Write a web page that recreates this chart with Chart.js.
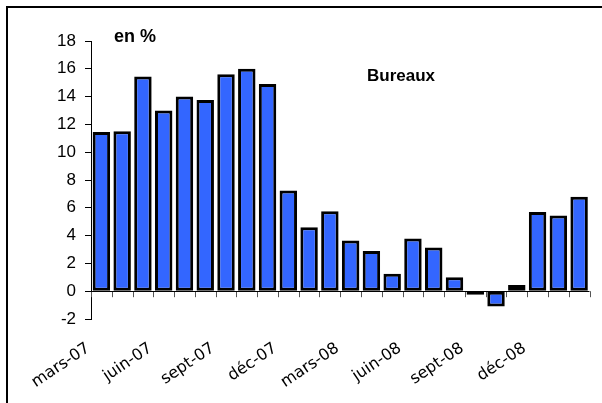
<!DOCTYPE html>
<html>
<head>
<meta charset="utf-8">
<script src="https://cdn.jsdelivr.net/npm/chart.js@4"></script>
<style>
  html, body { margin: 0; padding: 0; background: #fff; }
  #wrap { position: relative; width: 602px; height: 403px; }
  #frame { position: absolute; left: 6px; top: 6px; right: 0; bottom: 0;
           border-left: 2px solid #000; border-top: 2px solid #000; pointer-events: none; }
</style>
</head>
<body>
<div id="wrap">
  <canvas id="chart" width="602" height="403"></canvas>
  <div id="frame"></div>
</div>
<script>
const months = ["mars-07", "avr-07", "mai-07", "juin-07", "juil-07", "août-07",
  "sept-07", "oct-07", "nov-07", "déc-07", "janv-08", "févr-08",
  "mars-08", "avr-08", "mai-08", "juin-08", "juil-08", "août-08",
  "sept-08", "oct-08", "nov-08", "déc-08", "janv-09", "févr-09"];
const shownLabels = ["mars-07", "juin-07", "sept-07", "déc-07", "mars-08", "juin-08", "sept-08", "déc-08"];
const bureaux = [11.45, 11.5, 15.45, 13.0, 14.0, 13.75, 15.6, 16.0, 14.9, 7.25, 4.6, 5.75,
  3.65, 2.9, 1.25, 3.8, 3.15, 1.0, -0.25, -1.1, 0.45, 5.7, 5.45, 6.8];
const yTicks = [-2, 0, 2, 4, 6, 8, 10, 12, 14, 16, 18];
const unitText = "en %";
const seriesName = "Bureaux";

// zero line + tick marks between months, drawn under the bars
const zeroAxis = {
  id: "zeroAxis",
  beforeDatasetsDraw(chart) {
    const { ctx, scales: { x, y }, chartArea } = chart;
    const y0 = y.getPixelForValue(0);
    ctx.save();
    ctx.strokeStyle = "#555";
    ctx.lineWidth = 1;
    for (let i = 0; i <= months.length; i++) {
      const px = Math.round(x.getPixelForValue(i - 0.5)) + 0.5;
      ctx.beginPath();
      ctx.moveTo(px, y0);
      ctx.lineTo(px, y0 + 6);
      ctx.stroke();
    }
    ctx.strokeStyle = "#000";
    ctx.beginPath();
    ctx.moveTo(chartArea.left, Math.round(y0) + 0.5);
    ctx.lineTo(chartArea.right, Math.round(y0) + 0.5);
    ctx.stroke();
    ctx.restore();
  }
};

const notes = {
  id: "notes",
  afterDraw(chart) {
    const ctx = chart.ctx;
    ctx.save();
    ctx.fillStyle = "#000";
    ctx.textBaseline = "alphabetic";
    ctx.font = "bold 18px 'Liberation Sans', Arial, sans-serif";
    ctx.fillText(unitText, 114, 42);
    ctx.font = "bold 17px 'Liberation Sans', Arial, sans-serif";
    ctx.fillText(seriesName, 367, 81);
    ctx.restore();
  }
};

new Chart(document.getElementById("chart"), {
  type: "bar",
  data: {
    labels: months,
    datasets: [{
      label: seriesName,
      data: bureaux,
      backgroundColor: "#3366ff",
      borderColor: "#000",
      borderWidth: 3,
      borderSkipped: false,
      categoryPercentage: 1,
      barPercentage: 0.84
    }]
  },
  options: {
    responsive: false,
    animation: false,
    layout: { padding: { left: 8, top: 41, right: 7, bottom: 0 } },
    plugins: { legend: { display: false }, tooltip: { enabled: false } },
    scales: {
      x: {
        grid: { display: false },
        border: { display: false },
        afterFit: (s) => { s.height = 84; },
        ticks: {
          autoSkip: false,
          minRotation: 34,
          maxRotation: 34,
          padding: 12,
          labelOffset: -13,
          color: "#000",
          font: { family: "'DejaVu Sans', Tahoma, sans-serif", size: 16 },
          callback: (v, i) => shownLabels.includes(months[i]) ? months[i] : ""
        }
      },
      y: {
        min: -2,
        max: 18,
        afterFit: (s) => { s.width = 83; },
        afterBuildTicks: (s) => { s.ticks = yTicks.map(v => ({ value: v })); },
        border: { display: true, color: "#000", width: 1 },
        grid: { drawOnChartArea: false, drawTicks: true, tickLength: 6, color: "#000" },
        ticks: {
          padding: 9,
          color: "#000",
          font: { family: "'Liberation Sans', Arial, sans-serif", size: 17 }
        }
      }
    }
  },
  plugins: [zeroAxis, notes]
});
</script>
</body>
</html>
